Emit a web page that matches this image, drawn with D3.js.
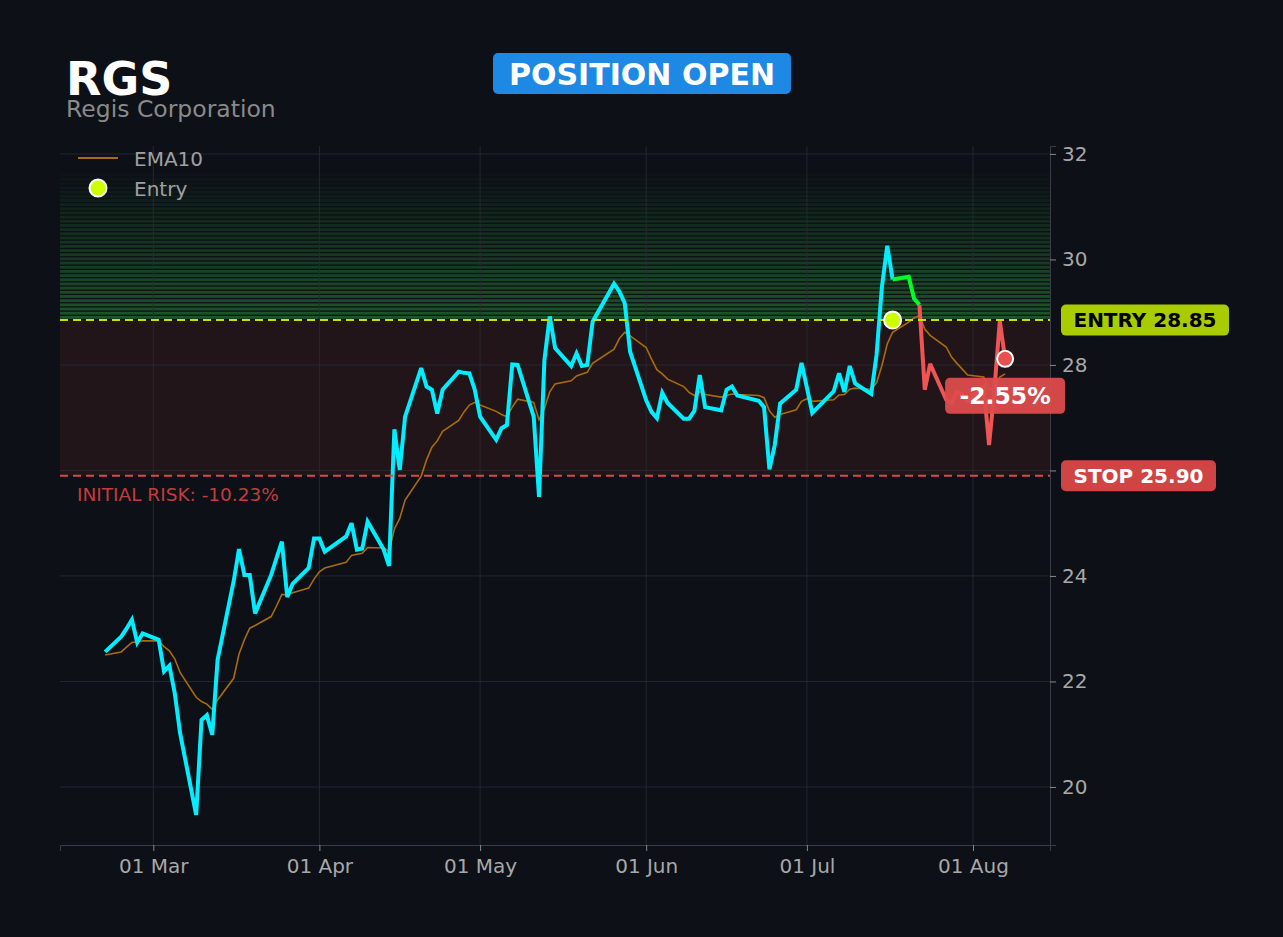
<!DOCTYPE html>
<html>
<head>
<meta charset="utf-8">
<script src="https://cdn.jsdelivr.net/npm/d3@7"></script>
<style>
  html, body { margin: 0; padding: 0; background: #0d1017; }
  svg { display: block; font-family: "DejaVu Sans", sans-serif; }
</style>
</head>
<body>
<svg id="chart" width="1283" height="937"></svg>
<script>
// trading days (2026) and daily closes
const dates = [
  '02-20','02-23','02-24','02-25','02-26','02-27',
  '03-02','03-03','03-04','03-05','03-06','03-09','03-10','03-11','03-12','03-13',
  '03-16','03-17','03-18','03-19','03-20','03-23','03-24','03-25','03-26','03-27','03-30','03-31',
  '04-01','04-02','04-06','04-07','04-08','04-09','04-10','04-13','04-14','04-15','04-16','04-17',
  '04-20','04-21','04-22','04-23','04-24','04-27','04-28','04-29','04-30',
  '05-01','05-04','05-05','05-06','05-07','05-08','05-11','05-12','05-13','05-14','05-15',
  '05-18','05-19','05-20','05-21','05-22','05-26','05-27','05-28','05-29',
  '06-01','06-02','06-03','06-04','06-05','06-08','06-09','06-10','06-11','06-12',
  '06-15','06-16','06-17','06-18','06-22','06-23','06-24','06-25','06-26','06-29','06-30',
  '07-01','07-02','07-06','07-07','07-08','07-09','07-10','07-13','07-14','07-15','07-16','07-17',
  '07-20','07-21','07-22','07-23','07-24','07-27','07-28','07-29','07-30','07-31',
  '08-03','08-04','08-05','08-06','08-07'
];
const closes = [
  22.56, 22.85, 23.00, 23.17, 22.74, 22.91,
  22.79, 22.19, 22.30, 21.78, 21.02, 19.47, 21.27, 21.36, 20.99, 22.41,
  23.90, 24.51, 24.02, 24.02, 23.29, 24.02, 24.34, 24.65, 23.60, 23.85, 24.15, 24.71,
  24.71, 24.46, 24.75, 25.00, 24.50, 24.52, 25.03, 24.50, 24.19, 26.78, 26.01, 27.02,
  27.94, 27.59, 27.53, 27.08, 27.53, 27.87, 27.85, 27.84, 27.53,
  27.02, 26.58, 26.80, 26.86, 28.01, 28.00, 27.02, 25.50, 28.09, 28.92, 28.32,
  27.98, 28.22, 27.98, 28.00, 28.82, 29.54, 29.39, 29.17, 28.25,
  27.33, 27.11, 26.99, 27.47, 27.28, 26.98, 26.98, 27.13, 27.81, 27.20,
  27.14, 27.53, 27.59, 27.42, 27.32, 27.20, 26.02, 26.48, 27.27, 27.53, 28.04,
  27.57, 27.09, 27.50, 27.84, 27.49, 27.98, 27.65, 27.45, 28.19, 29.48, 30.26, 29.62,
  29.67, 29.26, 29.14, 27.53, 28.02, 27.34, 27.27, 27.49, 27.43, 27.32,
  27.59, 26.48, 27.53, 28.83, 28.115
];
const ema10 = [
  22.50, 22.56, 22.65, 22.74, 22.75, 22.77,
  22.77, 22.66, 22.58, 22.43, 22.17, 21.70, 21.62, 21.57, 21.47, 21.65,
  22.06, 22.52, 22.79, 23.01, 23.06, 23.23, 23.43, 23.65, 23.64, 23.68, 23.77, 23.94,
  24.08, 24.15, 24.26, 24.39, 24.41, 24.43, 24.54, 24.53, 24.47, 24.89, 25.09, 25.44,
  25.89, 26.20, 26.44, 26.56, 26.74, 26.95, 27.11, 27.24, 27.29,
  27.24, 27.12, 27.06, 27.02, 27.20, 27.35, 27.29, 26.96, 27.17, 27.49, 27.64,
  27.70, 27.79, 27.83, 27.86, 28.03, 28.30, 28.50, 28.62, 28.55,
  28.33, 28.11, 27.91, 27.83, 27.73, 27.59, 27.48, 27.42, 27.49, 27.44,
  27.39, 27.42, 27.45, 27.44, 27.42, 27.38, 27.13, 27.01, 27.06, 27.15, 27.31,
  27.36, 27.31, 27.34, 27.43, 27.44, 27.54, 27.56, 27.54, 27.66, 27.99, 28.40, 28.62,
  28.81, 28.89, 28.94, 28.68, 28.56, 28.34, 28.15, 28.03, 27.92, 27.81,
  27.77, 27.54, 27.54, 27.77, 27.83
];
const yTicks = [20, 22, 24, 26, 28, 30, 32];
const xTicks = ['03-01', '04-01', '05-01', '06-01', '07-01', '08-01'];

const ticker = 'RGS';
const company = 'Regis Corporation';
const entryDate = '07-17';
const entryPrice = 28.85;
const stopPrice = 25.90;
const zoneTop = 31.7;

const parse = s => d3.utcParse('%Y-%m-%d')('2026-' + s);
const data = dates.map((d, i) => ({ date: parse(d), close: closes[i], ema: ema10[i] }));

const W = 1283, H = 937;
const plot = { left: 60, right: 1050, top: 146, bottom: 845 };

const svg = d3.select('#chart');
svg.append('rect').attr('width', W).attr('height', H).attr('fill', '#0d1017');

const x = d3.scaleUtc()
  .domain([new Date(Date.UTC(2026, 1, 11, 14)), new Date(Date.UTC(2026, 7, 15, 9))])
  .range([plot.left, plot.right]);
const y = d3.scaleLinear().domain([18.9, 32.15]).range([plot.bottom, plot.top]);

svg.append('clipPath').attr('id', 'clip')
  .append('rect')
  .attr('x', plot.left).attr('y', plot.top)
  .attr('width', plot.right - plot.left).attr('height', plot.bottom - plot.top);

const g = svg.append('g').attr('clip-path', 'url(#clip)');

// risk zone between stop and entry
g.append('rect')
  .attr('x', plot.left).attr('width', plot.right - plot.left)
  .attr('y', y(entryPrice)).attr('height', y(stopPrice) - y(entryPrice))
  .attr('fill', '#211519');

// striped fading profit zone above entry
const nBands = 36;
const bandStep = (zoneTop - entryPrice) / nBands;
g.append('g').selectAll('rect')
  .data(d3.range(nBands))
  .join('rect')
  .attr('x', plot.left).attr('width', plot.right - plot.left)
  .attr('y', i => y(entryPrice + (i + 1) * bandStep))
  .attr('height', i => Math.max(0, y(entryPrice + i * bandStep) - y(entryPrice + (i + 1) * bandStep) - 1.3))
  .attr('fill', '#2c9a3c')
  .attr('opacity', i => 0.5 * (1 - i / nBands));

// grid
g.append('g').selectAll('line')
  .data(yTicks)
  .join('line')
  .attr('x1', plot.left).attr('x2', plot.right)
  .attr('y1', d => y(d)).attr('y2', d => y(d))
  .attr('stroke', '#2a2d35').attr('stroke-width', 1).attr('opacity', 0.8);
g.append('g').selectAll('line')
  .data(xTicks.map(parse))
  .join('line')
  .attr('x1', d => x(d)).attr('x2', d => x(d))
  .attr('y1', plot.top).attr('y2', plot.bottom)
  .attr('stroke', '#2a2d35').attr('stroke-width', 1).attr('opacity', 0.8);

// EMA10
const emaLine = d3.line().x(d => x(d.date)).y(d => y(d.ema));
g.append('path').datum(data)
  .attr('d', emaLine)
  .attr('fill', 'none').attr('stroke', '#a86c0c').attr('stroke-width', 1.6);

// price line, coloured by phase
const entryIdx = dates.indexOf(entryDate);
const segColor = i => {
  if (i <= entryIdx) return '#00eeff';
  return data[i].close >= entryPrice ? '#00ff26' : '#f05454';
};
const runs = [];
for (let i = 1; i < data.length; i++) {
  const c = segColor(i);
  if (runs.length && runs[runs.length - 1].color === c) runs[runs.length - 1].pts.push(data[i]);
  else runs.push({ color: c, pts: [data[i - 1], data[i]] });
}
const priceLine = d3.line().x(d => x(d.date)).y(d => y(d.close));
g.append('g').selectAll('path')
  .data(runs)
  .join('path')
  .attr('d', r => priceLine(r.pts))
  .attr('fill', 'none')
  .attr('stroke', r => r.color)
  .attr('stroke-width', 4)
  .attr('stroke-linejoin', 'miter')
  .attr('stroke-miterlimit', 3);

// entry / stop lines
g.append('line')
  .attr('x1', plot.left).attr('x2', plot.right)
  .attr('y1', y(entryPrice)).attr('y2', y(entryPrice))
  .attr('stroke', '#c8e000').attr('stroke-width', 2).attr('stroke-dasharray', '8,5');
g.append('line')
  .attr('x1', plot.left).attr('x2', plot.right)
  .attr('y1', y(stopPrice)).attr('y2', y(stopPrice))
  .attr('stroke', '#d84848').attr('stroke-width', 2).attr('stroke-dasharray', '8,5');

// axes
const yAxis = svg.append('g')
  .attr('transform', `translate(${plot.right},0)`)
  .call(d3.axisRight(y).tickValues(yTicks).tickSize(6).tickPadding(6).tickFormat(d3.format('d')));
const xAxis = svg.append('g')
  .attr('transform', `translate(0,${plot.bottom})`)
  .call(d3.axisBottom(x).tickValues(xTicks.map(parse)).tickSize(6).tickPadding(8)
    .tickFormat(d3.utcFormat('%d %b')));
[xAxis, yAxis].forEach(ax => {
  ax.select('.domain').attr('stroke', '#3a3d45');
  ax.selectAll('.tick line').attr('stroke', '#888');
  ax.selectAll('.tick text').attr('fill', '#a8a8a8')
    .style('font-size', '20px').style('font-family', '"DejaVu Sans", sans-serif');
});

// markers
const last = data[data.length - 1];
svg.append('circle')
  .attr('cx', x(data[entryIdx].date)).attr('cy', y(entryPrice)).attr('r', 8.5)
  .attr('fill', '#ccff00').attr('stroke', '#fff').attr('stroke-width', 2);
svg.append('circle')
  .attr('cx', x(last.date)).attr('cy', y(last.close)).attr('r', 8)
  .attr('fill', '#e85050').attr('stroke', '#fff').attr('stroke-width', 2);

// P&L badge
const pnl = (last.close - entryPrice) / entryPrice * 100;
const pnlX = x(last.date), pnlY = y(last.close) + 37;
svg.append('rect')
  .attr('x', pnlX - 60).attr('y', pnlY - 18).attr('width', 120).attr('height', 36).attr('rx', 5)
  .attr('fill', '#dd4c4c').attr('opacity', 0.95);
svg.append('text')
  .attr('x', pnlX).attr('y', pnlY).attr('dy', '0.36em').attr('text-anchor', 'middle')
  .attr('fill', '#fff').attr('font-weight', 'bold').style('font-size', '23.5px')
  .text((pnl > 0 ? '+' : '') + pnl.toFixed(2) + '%');

// price tags on the right
function tag(price, label, fill, color, w) {
  const cy = y(price);
  svg.append('rect')
    .attr('x', 1061).attr('y', cy - 15.5).attr('width', w).attr('height', 31).attr('rx', 5)
    .attr('fill', fill);
  svg.append('text')
    .attr('x', 1061 + w / 2).attr('y', cy).attr('dy', '0.36em').attr('text-anchor', 'middle')
    .attr('fill', color).attr('font-weight', 'bold').style('font-size', '20px')
    .text(label);
}
tag(entryPrice, 'ENTRY ' + entryPrice.toFixed(2), '#a8cc00', '#000', 168);
tag(stopPrice, 'STOP ' + stopPrice.toFixed(2), '#d04444', '#fff', 155);

// initial risk note
const risk = (stopPrice - entryPrice) / entryPrice * 100;
svg.append('text')
  .attr('x', 77).attr('y', y(stopPrice) + 25)
  .attr('fill', '#c43c3c').style('font-size', '18.5px')
  .text('INITIAL RISK: ' + risk.toFixed(2) + '%');

// legend
svg.append('line').attr('x1', 78).attr('x2', 118).attr('y1', 158).attr('y2', 158)
  .attr('stroke', '#a86c0c').attr('stroke-width', 2);
svg.append('text').attr('x', 134).attr('y', 159).attr('dy', '0.36em')
  .attr('fill', '#a0a0a0').style('font-size', '20px').text('EMA10');
svg.append('circle').attr('cx', 98).attr('cy', 188).attr('r', 8.5)
  .attr('fill', '#ccff00').attr('stroke', '#fff').attr('stroke-width', 2);
svg.append('text').attr('x', 134).attr('y', 189).attr('dy', '0.36em')
  .attr('fill', '#a0a0a0').style('font-size', '20px').text('Entry');

// header
svg.append('text').attr('x', 66).attr('y', 95)
  .attr('fill', '#fff').attr('font-weight', 'bold').style('font-size', '46px').text(ticker);
svg.append('text').attr('x', 66).attr('y', 117)
  .attr('fill', '#8a8a8a').style('font-size', '23.5px').text(company);

svg.append('rect').attr('x', 493).attr('y', 53).attr('width', 298).attr('height', 41).attr('rx', 5)
  .attr('fill', '#1e88e5');
svg.append('text').attr('x', 642).attr('y', 74).attr('dy', '0.36em').attr('text-anchor', 'middle')
  .attr('fill', '#fff').attr('font-weight', 'bold').style('font-size', '30px').text('POSITION OPEN');
</script>
</body>
</html>
